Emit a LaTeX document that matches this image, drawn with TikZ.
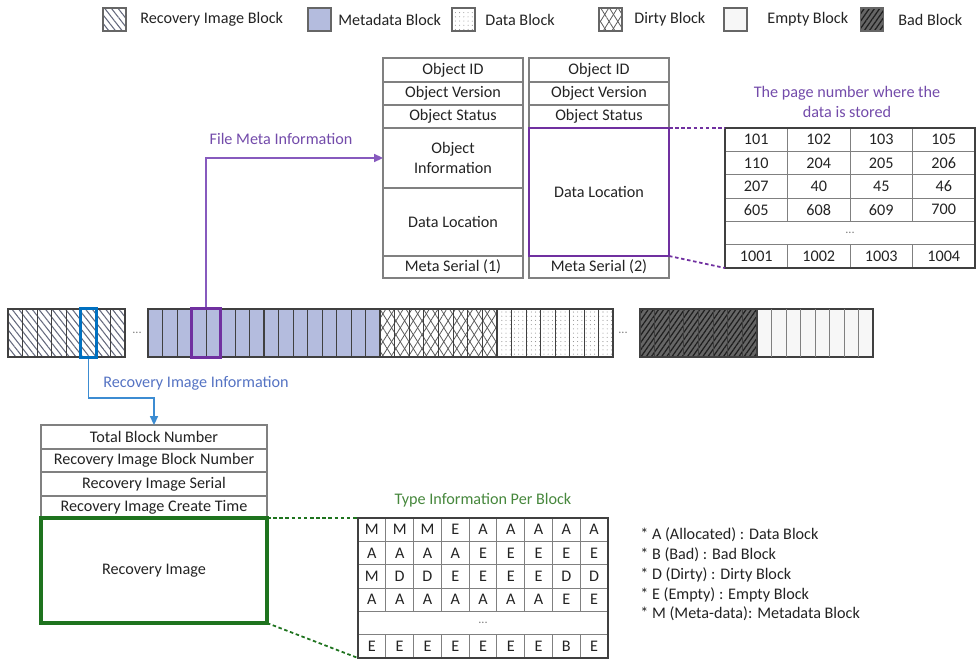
\documentclass[tikz,border=0pt]{standalone}
\usepackage{fontspec}
\setmainfont{Carlito}
\usetikzlibrary{patterns.meta,arrows.meta}
\definecolor{metafill}{RGB}{180,188,222}
\definecolor{purp}{RGB}{112,48,160}
\definecolor{purpline}{RGB}{135,90,190}
\definecolor{purptext}{RGB}{115,75,170}
\definecolor{bluebox}{RGB}{0,112,192}
\definecolor{blueline}{RGB}{60,140,210}
\definecolor{bluetext}{RGB}{85,115,195}
\definecolor{greenbox}{RGB}{30,115,30}
\definecolor{greentext}{RGB}{70,135,60}
\definecolor{tline}{RGB}{128,128,128}
\definecolor{tdark}{RGB}{64,64,64}
\definecolor{txt}{RGB}{35,35,35}
\definecolor{hatch}{RGB}{100,105,125}
\begin{document}
\begin{tikzpicture}[x=0.02cm,y=-0.02cm,
  font=\fontsize{9.2}{11}\selectfont, text=txt,
  sz/.style 2 args={minimum width=#1*0.02cm, minimum height=#2*0.02cm},
  cell/.style={draw=tline, line width=0.7pt, inner sep=0pt, outer sep=0pt, align=center},
  tcell/.style={draw=tline, line width=0.5pt, inner sep=0pt, outer sep=0pt},
  tframe/.style={draw=tdark, line width=1.2pt, inner sep=0pt, outer sep=0pt},
  grp/.style={draw=tdark, line width=1.1pt, inner sep=0pt, outer sep=0pt},
  sepline/.style={draw=tdark, line width=0.55pt},
  recovpat/.style={pattern={Lines[angle=-52,distance=3pt,line width=0.6pt]}, pattern color=hatch},
  metapat/.style={fill=metafill},
  datapat/.style={pattern={Dots[distance=2.4pt,radius=0.3pt]}, pattern color=black!45},
  dirtypat/.style={preaction={pattern={Lines[angle=58,distance=4.2pt,line width=0.45pt]}, pattern color=black!65},
                   pattern={Lines[angle=-58,distance=4.2pt,line width=0.45pt]}, pattern color=black!65},
  badpat/.style={preaction={fill=black!60}, pattern={Lines[angle=55,distance=2.4pt,line width=0.7pt]}, pattern color=black!88},
  emptypat/.style={fill=black!3},
  legicon/.style={draw=black!60, line width=0.6pt, inner sep=0pt, sz={23}{23}},
  legtext/.style={anchor=west, inner sep=0pt},
  dotsfont/.style={font=\fontsize{7}{8}\selectfont, text=black!50},
  arrowtip/.style={-{Triangle[length=5pt,width=4.5pt]}}
]
\useasboundingbox (0,0) rectangle (976,662);

% ---------- Legend ----------
\node[legicon, recovpat] (lg1) at (114.5,19.5) {};
\node[legtext] (lt1) at (140,19.5) {Recovery Image Block};
\node[legicon, metapat] (lg2) at (319.5,19.5) {};
\node[legtext] (lt2) at (338,19.5) {Metadata Block};
\node[legicon, datapat] (lg3) at (463.5,19.5) {};
\node[legtext] (lt3) at (485,19.5) {Data Block};
\node[legicon, dirtypat] (lg4) at (610.5,19.5) {};
\node[legtext] (lt4) at (634,19.5) {Dirty Block};
\node[legicon, emptypat] (lg5) at (735.5,19.5) {};
\node[legtext] (lt5) at (767,19.5) {Empty Block};
\node[legicon, badpat] (lg6) at (872,19.5) {};
\node[legtext] (lt6) at (898,19.5) {Bad Block};

% ---------- Object table 1 ----------
\node[cell, sz={140}{24}] (o1id) at (453,70) {Object ID};
\node[cell, sz={140}{23}] (o1ver) at (453,93.5) {Object Version};
\node[cell, sz={140}{23}] (o1st) at (453,116.5) {Object Status};
\node[cell, sz={140}{60}] (o1info) at (453,158) {Object\\Information};
\node[cell, sz={140}{68}] (o1dl) at (453,222) {Data Location};
\node[cell, sz={140}{22}] (o1ms) at (453,267) {Meta Serial (1)};

% ---------- Object table 2 ----------
\node[cell, sz={140}{24}] (o2id) at (599,70) {Object ID};
\node[cell, sz={140}{23}] (o2ver) at (599,93.5) {Object Version};
\node[cell, sz={140}{23}] (o2st) at (599,116.5) {Object Status};
\node[cell, sz={140}{22}] (o2ms) at (599,267) {Meta Serial (2)};
\node[draw=purp, line width=1.6pt, inner sep=0pt, outer sep=0pt, sz={140}{128}] (o2dl) at (599,192) {Data Location};

% ---------- Page number table ----------
\node[text=purptext, align=center, font=\fontsize{9.2}{11.4}\selectfont] (plabel) at (847,102) {The page number where the\\data is stored};
\foreach [count=\c] \v in {101,102,103,105}
  \node[tcell, sz={62.5}{23.33}] (pa\c) at (693.75+62.5*\c,139.67) {\v};
\foreach [count=\c] \v in {110,204,205,206}
  \node[tcell, sz={62.5}{23.33}] (pb\c) at (693.75+62.5*\c,163) {\v};
\foreach [count=\c] \v in {207,40,45,46}
  \node[tcell, sz={62.5}{23.33}] (pc\c) at (693.75+62.5*\c,186.33) {\v};
\foreach [count=\c] \v in {605,608,609,700}
  \node[tcell, sz={62.5}{23.33}] (pd\c) at (693.75+62.5*\c,209.67) {\v};
\node[tcell, sz={250}{23.33}, dotsfont] (pe) at (850,233) {...};
\foreach [count=\c] \v in {1001,1002,1003,1004}
  \node[tcell, sz={62.5}{23.33}] (pf\c) at (693.75+62.5*\c,256.33) {\v};
\node[tframe, sz={250}{140}] (ptab) at (850,198) {};

\draw[purp, line width=1pt, dash pattern=on 2pt off 1.5pt] (o2dl.north east) -- (ptab.north west);
\draw[purp, line width=1pt, dash pattern=on 2pt off 1.5pt] (o2dl.south east) -- (ptab.south west);

% ---------- Block strip ----------
\node[grp, recovpat, sz={117}{48}] (g1) at (66.5,333) {};
\foreach \i in {1,...,7} \draw[sepline] ({8+\i*14.625},309) -- ++(0,48);
\node[dotsfont] (dots1) at (137,333) {...};
\node[grp, metapat, sz={116}{48}] (g2a) at (206,333) {};
\foreach \i in {1,...,7} \draw[sepline] ({148+\i*14.5},309) -- ++(0,48);
\node[grp, metapat, sz={116}{48}] (g2b) at (322,333) {};
\foreach \i in {1,...,7} \draw[sepline] ({264+\i*14.5},309) -- ++(0,48);
\node[grp, dirtypat, sz={117}{48}] (g3) at (438.5,333) {};
\foreach \i in {1,...,7} \draw[sepline] ({380+\i*14.625},309) -- ++(0,48);
\node[grp, datapat, sz={116}{48}] (g4) at (555,333) {};
\foreach \i in {1,...,7} \draw[sepline] ({497+\i*14.5},309) -- ++(0,48);
\node[dotsfont] (dots2) at (623,333) {...};
\node[grp, badpat, sz={117}{48}] (g5) at (698.5,333) {};
\foreach \i in {1,...,7} \draw[sepline, draw=black!75] ({640+\i*14.625},309) -- ++(0,48);
\node[grp, emptypat, sz={116}{48}] (g6) at (815,333) {};
\foreach \i in {1,...,7} \draw[sepline, draw=tline] ({757+\i*14.5},309) -- ++(0,48);

\node[draw=bluebox, line width=1.5pt, inner sep=0pt, sz={16}{49}] (bbox) at (88.5,333) {};
\node[draw=purp, line width=1.5pt, inner sep=0pt, sz={29}{49}] (pbox) at (206,333) {};

% ---------- File meta arrow ----------
\draw[purpline, line width=1pt, arrowtip] (pbox.north) |- (o1info.west);
\node[text=purptext] (lfile) at (281,139) {File Meta Information};

% ---------- Recovery image table ----------
\node[cell, sz={226}{24}] (rtot) at (154,437) {Total Block Number};
\node[cell, sz={226}{23}] (rbn) at (154,460.5) {Recovery Image Block Number};
\node[cell, sz={226}{24}] (rser) at (154,484) {Recovery Image Serial};
\node[cell, sz={226}{22}] (rtime) at (154,507) {Recovery Image Create Time};
\node[draw=greenbox, line width=1.8pt, inner sep=0pt, outer sep=0pt, sz={226}{105}] (rimg) at (154,570.5) {Recovery Image};

\coordinate (bturn) at (88.5,398);
\draw[blueline, line width=1pt, arrowtip] (bbox.south) -- (bturn) -| (rtot.north);
\node[text=bluetext] (lrec) at (196,383) {Recovery Image Information};

% ---------- Type information table ----------
\node[text=greentext] (tlabel) at (483,500) {Type Information Per Block};
\foreach [count=\c] \v in {M,M,M,E,A,A,A,A,A}
  \node[tcell, sz={27.78}{23.33}] (ta\c) at (344.11+27.78*\c,529.67) {\v};
\foreach [count=\c] \v in {A,A,A,A,E,E,E,E,E}
  \node[tcell, sz={27.78}{23.33}] (tb\c) at (344.11+27.78*\c,553) {\v};
\foreach [count=\c] \v in {M,D,D,E,E,E,E,D,D}
  \node[tcell, sz={27.78}{23.33}] (tc\c) at (344.11+27.78*\c,576.33) {\v};
\foreach [count=\c] \v in {A,A,A,A,A,A,A,E,E}
  \node[tcell, sz={27.78}{23.33}] (td\c) at (344.11+27.78*\c,599.67) {\v};
\node[tcell, sz={250}{23.33}, dotsfont] (te) at (483,623) {...};
\foreach [count=\c] \v in {E,E,E,E,E,E,E,B,E}
  \node[tcell, sz={27.78}{23.33}] (tf\c) at (344.11+27.78*\c,646.33) {\v};
\node[tframe, sz={250}{140}] (ttab) at (483,588) {};

\draw[greenbox, line width=1pt, dash pattern=on 2pt off 1.5pt] (rimg.north east) -- (ttab.north west);
\draw[greenbox, line width=1pt, dash pattern=on 2pt off 1.5pt] (rimg.south east) -- (ttab.south west);

% ---------- Notes ----------
\node[legtext] (n1) at (640,535) {* A (Allocated) : Data Block};
\node[legtext] (n2) at (640,555) {* B (Bad) : Bad Block};
\node[legtext] (n3) at (640,575) {* D (Dirty) : Dirty Block};
\node[legtext] (n4) at (640,595) {* E (Empty) : Empty Block};
\node[legtext] (n5) at (640,614) {* M (Meta-data): Metadata Block};
\end{tikzpicture}
\end{document}
